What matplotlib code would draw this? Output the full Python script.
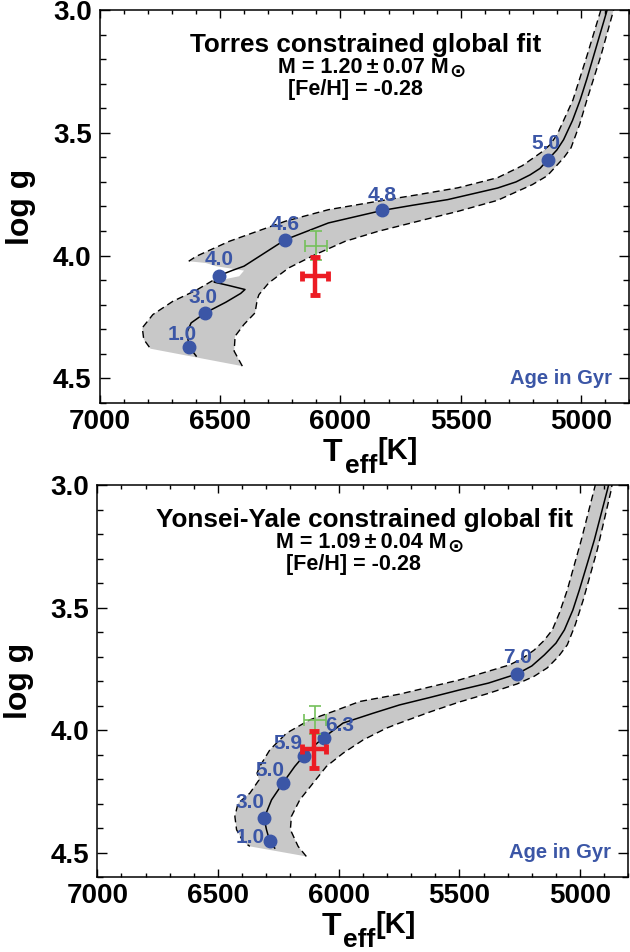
import matplotlib
matplotlib.use('Agg')
import matplotlib.pyplot as plt
from matplotlib.ticker import MultipleLocator, FormatStrFormatter

plt.rcParams['font.family'] = ['Liberation Sans', 'DejaVu Sans']
plt.rcParams['font.weight'] = 'bold'

# ---------------- Torres panel ----------------
torres_track_T = [6600, 6628, 6639, 6621, 6562, 6477, 6415, 6397, 6463, 6525, 6521, 6504,
                  6449, 6401, 6229, 6050, 5826, 5700, 5554, 5347, 5270, 5211, 5170, 5138, 5100,
                  5072, 5035, 5003, 4975, 4948, 4893, 4870]
torres_track_g = [4.409, 4.373, 4.314, 4.274, 4.233, 4.190, 4.154, 4.138, 4.122, 4.108, 4.091, 4.081,
                  4.060, 4.043, 3.935, 3.867, 3.816, 3.795, 3.772, 3.725, 3.700, 3.671, 3.645, 3.610, 3.570,
                  3.528, 3.450, 3.366, 3.280, 3.190, 3.007, 2.93]

# band: upper edge (top -> tip), notch, left edge (-> bottom-left), right edge (bottom-right -> top)
torres_up_T = [4905, 4917, 4975, 5033, 5099, 5130, 5161, 5244, 5347, 5512, 5678, 5829, 6050, 6229, 6463, 6600, 6631]
torres_up_g = [2.95, 3.0, 3.187, 3.366, 3.508, 3.550, 3.577, 3.634, 3.683, 3.724, 3.752, 3.776, 3.813, 3.860, 3.942,
               4.003, 4.023]
torres_notch_T = [6560, 6518, 6401, 6421, 6490]
torres_notch_g = [4.030, 4.043, 4.061, 4.084, 4.098]
torres_left_T = [6532, 6600, 6697, 6780, 6824, 6818, 6790]
torres_left_g = [4.102, 4.141, 4.186, 4.240, 4.294, 4.341, 4.379]
torres_right_T = [6408, 6442, 6438, 6401, 6355, 6346, 6339, 6298, 6215, 6105, 5981, 5843, 5636, 5512,
                  5347, 5202, 5140, 5107, 5070, 5041, 5005, 4975, 4917, 4864, 4850]
torres_right_g = [4.450, 4.389, 4.328, 4.280, 4.233, 4.179, 4.159, 4.111, 4.050, 3.996, 3.942, 3.901, 3.850, 3.820,
                  3.775, 3.711, 3.675, 3.640, 3.600, 3.561, 3.465, 3.366, 3.187, 3.0, 2.95]

torres_ages = ['1.0', '3.0', '4.0', '4.6', '4.8', '5.0']
torres_age_T = [6628, 6562, 6504, 6229, 5826, 5138]
torres_age_g = [4.373, 4.233, 4.081, 3.935, 3.816, 3.610]

# ---------------- Yonsei-Yale panel ----------------
yy_track_T = [6265, 6285, 6299, 6309, 6278, 6230, 6182, 6145, 6106, 6062, 5982, 5858, 5748, 5620, 5500,
              5380, 5260, 5200, 5148, 5100, 5065, 5030, 5003, 4970, 4941, 4887, 4870]
yy_track_g = [4.481, 4.454, 4.406, 4.359, 4.284, 4.214, 4.148, 4.105, 4.067, 4.030, 3.971, 3.931, 3.897, 3.866, 3.836,
              3.808, 3.770, 3.738, 3.693, 3.645, 3.591, 3.510, 3.428, 3.320, 3.224, 3.020, 2.95]

yy_up_T = [4930, 4937, 4995, 5053, 5085, 5115, 5150, 5190, 5240, 5293, 5500, 5748, 5913, 6024, 6120, 6216, 6285,
           6327, 6338, 6330, 6368, 6417, 6430, 6423, 6396, 6368]
yy_up_g = [2.95, 3.0, 3.224, 3.428, 3.520, 3.591, 3.635, 3.673, 3.708, 3.734, 3.795, 3.853, 3.883, 3.924, 3.958,
           4.012, 4.080, 4.148, 4.175, 4.203, 4.257, 4.298, 4.352, 4.406, 4.454, 4.474]
yy_right_T = [6134, 6168, 6200, 6196, 6161, 6106, 6051, 5982, 5899, 5803, 5748, 5620, 5500, 5380, 5260, 5190,
              5136, 5090, 5053, 5020, 4987, 4929, 4871, 4860]
yy_right_g = [4.515, 4.474, 4.406, 4.352, 4.284, 4.216, 4.148, 4.094, 4.040, 3.992, 3.971, 3.925, 3.885, 3.850,
              3.811, 3.780, 3.746, 3.700, 3.652, 3.570, 3.469, 3.265, 3.02, 2.95]

yy_ages = ['1.0', '3.0', '5.0', '5.9', '6.3', '7.0']
yy_age_T = [6285, 6309, 6230, 6145, 6062, 5260]
yy_age_g = [4.454, 4.359, 4.214, 4.105, 4.030, 3.770]

# observed values (red) and alternative values (green)
torres_obs = (6105, 4.084, 54, 0.078)
torres_alt = (6102, 3.959, 45, 0.058)
yy_obs = (6102, 4.078, 50, 0.075)
yy_alt = (6099, 3.958, 45, 0.058)

BLUE = '#3B56A6'
GRAY = '#C8C8C8'


def setup_axes(ax):
    ax.set_xlim(7000, 4800)
    ax.set_ylim(4.6, 3.0)
    ax.set_xticks([7000, 6500, 6000, 5500, 5000])
    ax.set_yticks([3.0, 3.5, 4.0, 4.5])
    ax.xaxis.set_minor_locator(MultipleLocator(100))
    ax.yaxis.set_minor_locator(MultipleLocator(0.1))
    ax.yaxis.set_major_formatter(FormatStrFormatter('%.1f'))
    ax.tick_params(which='both', direction='in', top=True, right=True, width=1.0,
                   labelsize=20)
    ax.tick_params(axis='x', which='major', length=5.5, pad=4)
    ax.tick_params(axis='x', which='minor', length=3)
    ax.tick_params(axis='y', which='major', length=7, pad=6)
    ax.tick_params(axis='y', which='minor', length=4.3)
    for s in ax.spines.values():
        s.set_linewidth(1.1)
    ax.set_ylabel('log g', fontsize=23, fontweight='bold')
    ax.yaxis.set_label_coords(-0.12, 0.5)
    t = ax.text(0.4216, -0.147, 'T', transform=ax.transAxes, ha='left', va='baseline',
                fontsize=23, fontweight='bold')
    e = ax.annotate('eff', xy=(1, 0), xycoords=t, xytext=(1.5, -3.8), textcoords='offset points',
                    ha='left', va='baseline', fontsize=19, fontweight='bold', annotation_clip=False)
    ax.annotate('[K]', xy=(1, 0), xycoords=(e, t), xytext=(0, 6.5), textcoords='offset points',
                ha='left', va='baseline', fontsize=21, fontweight='bold', annotation_clip=False)
    ax.text(0.968, 0.048, 'Age in Gyr', transform=ax.transAxes, ha='right', va='baseline',
            fontsize=14.5, color=BLUE, fontweight='bold')


def draw_panel(ax, track_T, track_g, edges_dashed, poly_T, poly_g, ages, age_T, age_g, offsets,
               obs, alt, title, mass, feh):
    ax.fill(poly_T, poly_g, color=GRAY, lw=0, zorder=1)
    for eT, eg in edges_dashed:
        ax.plot(eT, eg, color='black', lw=1.0, ls=(0, (5, 3)), zorder=2)
    ax.plot(track_T, track_g, color='black', lw=1.1, zorder=3)
    ax.plot(age_T, age_g, 'o', color=BLUE, ms=9, zorder=4)
    for lab, x, y, off in zip(ages, age_T, age_g, offsets):
        ax.annotate(lab, (x, y), xytext=off, textcoords='offset points', ha='center', va='center',
                    color=BLUE, fontsize=15, fontweight='bold', zorder=6)
    ax.errorbar(alt[0], alt[1], xerr=alt[2], yerr=alt[3], color='#74C05A', elinewidth=1.2,
                capsize=4, capthick=1.2, zorder=5)
    ax.errorbar(obs[0], obs[1], xerr=obs[2], yerr=obs[3], color='#EC1C24', elinewidth=3.2,
                capsize=3.5, capthick=3.5, zorder=7)
    ax.text(0.503, 0.894, title, transform=ax.transAxes, ha='center', va='baseline',
            fontsize=18.8, fontweight='bold')
    m = ax.text(0.3365, 0.840, mass, transform=ax.transAxes, ha='left', va='baseline',
                fontsize=15.5, fontweight='bold')
    ax.annotate('\u2299', xy=(1, 0), xycoords=m, xytext=(0.5, -2.5), textcoords='offset points',
                ha='left', va='bottom', fontsize=14, family='DejaVu Sans', fontweight='bold')
    ax.text(0.355, 0.784, feh, transform=ax.transAxes, ha='left', va='baseline',
            fontsize=15.5, fontweight='bold')
    setup_axes(ax)


fig = plt.figure(figsize=(6.3, 9.52), dpi=100)
ax1 = fig.add_axes([0.1587, 0.5767, 0.8397, 0.4128])
ax2 = fig.add_axes([0.1544, 0.0785, 0.8430, 0.4120])

draw_panel(ax1, torres_track_T, torres_track_g,
           [(torres_up_T, torres_up_g), (torres_left_T, torres_left_g), (torres_right_T, torres_right_g)],
           torres_up_T + torres_notch_T + torres_left_T + torres_right_T,
           torres_up_g + torres_notch_g + torres_left_g + torres_right_g,
           torres_ages, torres_age_T, torres_age_g,
           [(-5, 9.5), (-1.5, 11), (0, 11.5), (0, 11), (0, 11), (-1.5, 12)],
           torres_obs, torres_alt, 'Torres constrained global fit',
           'M = 1.20\u2009\u00b1\u20090.07 M', '[Fe/H] = -0.28')

draw_panel(ax2, yy_track_T, yy_track_g,
           [(yy_up_T, yy_up_g), (yy_right_T, yy_right_g)],
           yy_up_T + yy_right_T, yy_up_g + yy_right_g,
           yy_ages, yy_age_T, yy_age_g,
           [(-14.5, 3), (-10, 11), (-9.5, 9), (-11.5, 9), (11.5, 9), (0, 12)],
           yy_obs, yy_alt, 'Yonsei-Yale constrained global fit',
           'M = 1.09\u2009\u00b1\u20090.04 M', '[Fe/H] = -0.28')

fig.savefig('out.png', dpi=100)
